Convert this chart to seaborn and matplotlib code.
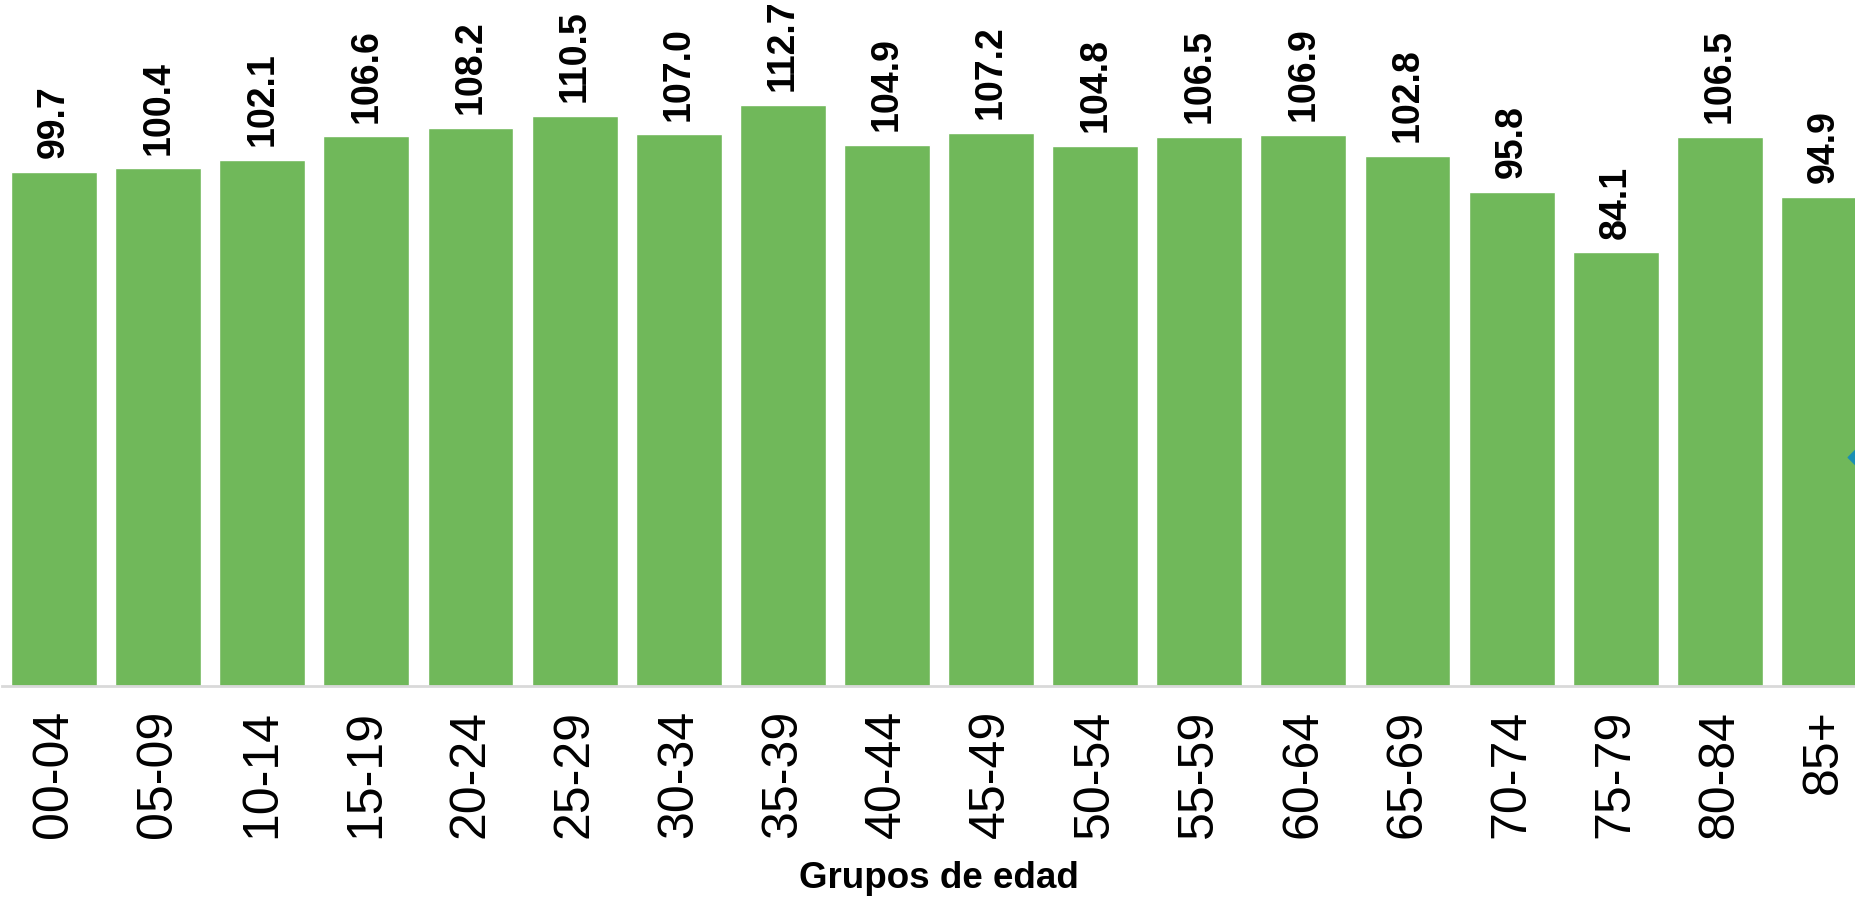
import numpy as np
import pandas as pd
import matplotlib.pyplot as plt
import seaborn as sns

# indice de masculinidad por grupo de edad
grupos = ["00-04", "05-09", "10-14", "15-19", "20-24", "25-29", "30-34", "35-39",
          "40-44", "45-49", "50-54", "55-59", "60-64", "65-69", "70-74", "75-79",
          "80-84", "85+"]
valores = [99.7, 100.4, 102.1, 106.6, 108.2, 110.5, 107.0, 112.7, 104.9, 107.2,
           104.8, 106.5, 106.9, 102.8, 95.8, 84.1, 106.5, 94.9]
# resto de un marcador que asoma por el borde derecho
marca_x = [17.33]
marca_y = [44.4]

df = pd.DataFrame({"grupo": grupos, "valor": valores})

sns.set_style("white")
plt.rcParams["font.family"] = ["Liberation Sans", "DejaVu Sans"]
plt.rcParams["text.color"] = "black"
plt.rcParams["xtick.color"] = "black"
plt.rcParams["axes.labelcolor"] = "black"

fig = plt.figure(figsize=(18.56, 9.02), dpi=100)
ax = fig.add_axes([2 / 1856, 1 - 686 / 902, 1874 / 1856, 686 / 902])

sns.barplot(data=df, x="grupo", y="valor", color="#70B85A", saturation=1,
            width=0.826, ax=ax)
ax.scatter(marca_x, marca_y, marker="D", s=110, color="#1A8FB5", zorder=5,
           clip_on=False)

ax.set_xlim(-0.5, len(grupos) - 0.5)
ax.set_ylim(0, 686 / 5.155)

for i, v in enumerate(valores):
    ax.annotate(f"{v:.1f}", (i, v), xytext=(0, 10), textcoords="offset points",
                rotation=90, ha="center", va="bottom", fontsize=27,
                fontweight="bold", color="black")

for s in ["top", "right", "left"]:
    ax.spines[s].set_visible(False)
ax.spines["bottom"].set_color("#D9D9D9")
ax.spines["bottom"].set_linewidth(2)
ax.set_yticks([])
ax.set_ylabel("")
ax.tick_params(axis="x", length=0, pad=17, labelsize=36, labelrotation=90,
               labelcolor="black")
ax.set_xlabel("Grupos de edad", fontsize=26.5, fontweight="bold", labelpad=17,
              color="black")

fig.savefig("out.png", dpi=100)
